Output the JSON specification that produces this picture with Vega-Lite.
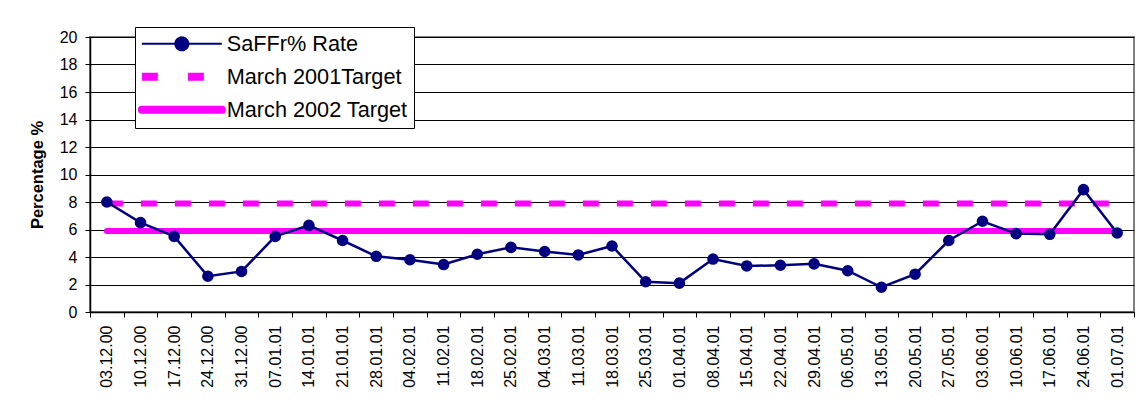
{
  "$schema": "https://vega.github.io/schema/vega-lite/v6.json",
  "width": 1044,
  "height": 275,
  "autosize": {"type": "none"},
  "padding": {"left": 90, "top": 37, "right": 5, "bottom": 104},
  "background": "white",
  "config": {
    "font": "Liberation Sans",
    "view": {"stroke": "#808080", "strokeWidth": 2},
    "axis": {"labelColor": "black", "titleColor": "black", "domainColor": "black", "tickColor": "black", "labelFont": "Liberation Sans", "titleFont": "Liberation Sans"}
  },
  "data": {
    "values": [
      {"date": "03.12.00", "series": "March 2001Target", "value": 7.9},
      {"date": "10.12.00", "series": "March 2001Target", "value": 7.9},
      {"date": "17.12.00", "series": "March 2001Target", "value": 7.9},
      {"date": "24.12.00", "series": "March 2001Target", "value": 7.9},
      {"date": "31.12.00", "series": "March 2001Target", "value": 7.9},
      {"date": "07.01.01", "series": "March 2001Target", "value": 7.9},
      {"date": "14.01.01", "series": "March 2001Target", "value": 7.9},
      {"date": "21.01.01", "series": "March 2001Target", "value": 7.9},
      {"date": "28.01.01", "series": "March 2001Target", "value": 7.9},
      {"date": "04.02.01", "series": "March 2001Target", "value": 7.9},
      {"date": "11.02.01", "series": "March 2001Target", "value": 7.9},
      {"date": "18.02.01", "series": "March 2001Target", "value": 7.9},
      {"date": "25.02.01", "series": "March 2001Target", "value": 7.9},
      {"date": "04.03.01", "series": "March 2001Target", "value": 7.9},
      {"date": "11.03.01", "series": "March 2001Target", "value": 7.9},
      {"date": "18.03.01", "series": "March 2001Target", "value": 7.9},
      {"date": "25.03.01", "series": "March 2001Target", "value": 7.9},
      {"date": "01.04.01", "series": "March 2001Target", "value": 7.9},
      {"date": "08.04.01", "series": "March 2001Target", "value": 7.9},
      {"date": "15.04.01", "series": "March 2001Target", "value": 7.9},
      {"date": "22.04.01", "series": "March 2001Target", "value": 7.9},
      {"date": "29.04.01", "series": "March 2001Target", "value": 7.9},
      {"date": "06.05.01", "series": "March 2001Target", "value": 7.9},
      {"date": "13.05.01", "series": "March 2001Target", "value": 7.9},
      {"date": "20.05.01", "series": "March 2001Target", "value": 7.9},
      {"date": "27.05.01", "series": "March 2001Target", "value": 7.9},
      {"date": "03.06.01", "series": "March 2001Target", "value": 7.9},
      {"date": "10.06.01", "series": "March 2001Target", "value": 7.9},
      {"date": "17.06.01", "series": "March 2001Target", "value": 7.9},
      {"date": "24.06.01", "series": "March 2001Target", "value": 7.9},
      {"date": "01.07.01", "series": "March 2001Target", "value": 7.9},
      {"date": "03.12.00", "series": "March 2002 Target", "value": 5.9},
      {"date": "10.12.00", "series": "March 2002 Target", "value": 5.9},
      {"date": "17.12.00", "series": "March 2002 Target", "value": 5.9},
      {"date": "24.12.00", "series": "March 2002 Target", "value": 5.9},
      {"date": "31.12.00", "series": "March 2002 Target", "value": 5.9},
      {"date": "07.01.01", "series": "March 2002 Target", "value": 5.9},
      {"date": "14.01.01", "series": "March 2002 Target", "value": 5.9},
      {"date": "21.01.01", "series": "March 2002 Target", "value": 5.9},
      {"date": "28.01.01", "series": "March 2002 Target", "value": 5.9},
      {"date": "04.02.01", "series": "March 2002 Target", "value": 5.9},
      {"date": "11.02.01", "series": "March 2002 Target", "value": 5.9},
      {"date": "18.02.01", "series": "March 2002 Target", "value": 5.9},
      {"date": "25.02.01", "series": "March 2002 Target", "value": 5.9},
      {"date": "04.03.01", "series": "March 2002 Target", "value": 5.9},
      {"date": "11.03.01", "series": "March 2002 Target", "value": 5.9},
      {"date": "18.03.01", "series": "March 2002 Target", "value": 5.9},
      {"date": "25.03.01", "series": "March 2002 Target", "value": 5.9},
      {"date": "01.04.01", "series": "March 2002 Target", "value": 5.9},
      {"date": "08.04.01", "series": "March 2002 Target", "value": 5.9},
      {"date": "15.04.01", "series": "March 2002 Target", "value": 5.9},
      {"date": "22.04.01", "series": "March 2002 Target", "value": 5.9},
      {"date": "29.04.01", "series": "March 2002 Target", "value": 5.9},
      {"date": "06.05.01", "series": "March 2002 Target", "value": 5.9},
      {"date": "13.05.01", "series": "March 2002 Target", "value": 5.9},
      {"date": "20.05.01", "series": "March 2002 Target", "value": 5.9},
      {"date": "27.05.01", "series": "March 2002 Target", "value": 5.9},
      {"date": "03.06.01", "series": "March 2002 Target", "value": 5.9},
      {"date": "10.06.01", "series": "March 2002 Target", "value": 5.9},
      {"date": "17.06.01", "series": "March 2002 Target", "value": 5.9},
      {"date": "24.06.01", "series": "March 2002 Target", "value": 5.9},
      {"date": "01.07.01", "series": "March 2002 Target", "value": 5.9},
      {"date": "03.12.00", "series": "SaFFr% Rate", "value": 8.0},
      {"date": "10.12.00", "series": "SaFFr% Rate", "value": 6.5},
      {"date": "17.12.00", "series": "SaFFr% Rate", "value": 5.5},
      {"date": "24.12.00", "series": "SaFFr% Rate", "value": 2.6},
      {"date": "31.12.00", "series": "SaFFr% Rate", "value": 2.95},
      {"date": "07.01.01", "series": "SaFFr% Rate", "value": 5.5},
      {"date": "14.01.01", "series": "SaFFr% Rate", "value": 6.3},
      {"date": "21.01.01", "series": "SaFFr% Rate", "value": 5.2},
      {"date": "28.01.01", "series": "SaFFr% Rate", "value": 4.05},
      {"date": "04.02.01", "series": "SaFFr% Rate", "value": 3.8},
      {"date": "11.02.01", "series": "SaFFr% Rate", "value": 3.45},
      {"date": "18.02.01", "series": "SaFFr% Rate", "value": 4.2},
      {"date": "25.02.01", "series": "SaFFr% Rate", "value": 4.7},
      {"date": "04.03.01", "series": "SaFFr% Rate", "value": 4.4},
      {"date": "11.03.01", "series": "SaFFr% Rate", "value": 4.15},
      {"date": "18.03.01", "series": "SaFFr% Rate", "value": 4.8},
      {"date": "25.03.01", "series": "SaFFr% Rate", "value": 2.2},
      {"date": "01.04.01", "series": "SaFFr% Rate", "value": 2.1},
      {"date": "08.04.01", "series": "SaFFr% Rate", "value": 3.85},
      {"date": "15.04.01", "series": "SaFFr% Rate", "value": 3.35},
      {"date": "22.04.01", "series": "SaFFr% Rate", "value": 3.4},
      {"date": "29.04.01", "series": "SaFFr% Rate", "value": 3.5},
      {"date": "06.05.01", "series": "SaFFr% Rate", "value": 3.0},
      {"date": "13.05.01", "series": "SaFFr% Rate", "value": 1.8},
      {"date": "20.05.01", "series": "SaFFr% Rate", "value": 2.75},
      {"date": "27.05.01", "series": "SaFFr% Rate", "value": 5.2},
      {"date": "03.06.01", "series": "SaFFr% Rate", "value": 6.6},
      {"date": "10.06.01", "series": "SaFFr% Rate", "value": 5.7},
      {"date": "17.06.01", "series": "SaFFr% Rate", "value": 5.65},
      {"date": "24.06.01", "series": "SaFFr% Rate", "value": 8.9},
      {"date": "01.07.01", "series": "SaFFr% Rate", "value": 5.75}
    ]
  },
  "encoding": {
    "x": {
      "field": "date", "type": "ordinal", "title": null,
      "scale": {"type": "band", "paddingInner": 0, "paddingOuter": 0,
        "domain": ["03.12.00","10.12.00","17.12.00","24.12.00","31.12.00","07.01.01","14.01.01","21.01.01","28.01.01","04.02.01","11.02.01","18.02.01","25.02.01","04.03.01","11.03.01","18.03.01","25.03.01","01.04.01","08.04.01","15.04.01","22.04.01","29.04.01","06.05.01","13.05.01","20.05.01","27.05.01","03.06.01","10.06.01","17.06.01","24.06.01","01.07.01"]},
      "axis": {"tickBand": "extent", "tickSize": 5, "labelAngle": -90, "labelFontSize": 16, "labelPadding": 8, "grid": false, "domainWidth": 1.5}
    },
    "y": {
      "field": "value", "type": "quantitative", "title": "Percentage %",
      "scale": {"domain": [0, 20], "nice": false},
      "axis": {"values": [0,2,4,6,8,10,12,14,16,18,20], "tickSize": 5, "labelFontSize": 16, "labelPadding": 8, "grid": true, "gridColor": "black", "gridOpacity": 1, "gridWidth": 1, "titleFontSize": 16.5, "titleFontWeight": "bold", "titlePadding": 14, "domainWidth": 1.5}
    },
    "color": {
      "field": "series", "type": "nominal",
      "scale": {"domain": ["SaFFr% Rate", "March 2001Target", "March 2002 Target"], "range": ["#000080", "#FF00FF", "#FF00FF"]},
      "legend": {
        "orient": "none", "legendX": 45, "legendY": -10, "title": null,
        "strokeColor": "black", "fillColor": "white", "padding": 6,
        "labelFont": "Liberation Sans", "labelFontSize": 21.7, "labelColor": "black", "labelOffset": 64, "labelLimit": 0,
        "symbolSize": 100, "rowPadding": 10, "symbolStrokeWidth": 2,
        "encode": {
          "symbols": {
            "update": {
              "shape": {"signal": "datum.value == 'SaFFr% Rate' ? 'M-2,0L14,0M7.3,0A1.3,1.3,0,1,1,4.7,0A1.3,1.3,0,1,1,7.3,0' : 'M-2,0L14,0'"},
              "fill": {"signal": "datum.value == 'SaFFr% Rate' ? '#000080' : 'transparent'"},
              "stroke": {"signal": "datum.value == 'SaFFr% Rate' ? '#000080' : '#FF00FF'"},
              "strokeWidth": {"signal": "datum.value == 'SaFFr% Rate' ? 2 : 8"},
              "strokeDash": {"signal": "datum.value == 'March 2001Target' ? [16,30] : [1,0]"},
              "strokeCap": {"signal": "datum.value == 'March 2002 Target' ? 'round' : 'butt'"},
              "strokeJoin": {"value": "round"},
              "opacity": {"value": 1}
            }
          }
        }
      }
    }
  },
  "layer": [
    {
      "transform": [{"filter": "datum.series == 'March 2001Target'"}],
      "mark": {"type": "line", "strokeWidth": 6, "strokeDash": [16, 18], "strokeCap": "butt"}
    },
    {
      "transform": [{"filter": "datum.series == 'March 2002 Target'"}],
      "mark": {"type": "line", "strokeWidth": 6, "strokeCap": "round"}
    },
    {
      "transform": [{"filter": "datum.series == 'SaFFr% Rate'"}],
      "mark": {"type": "line", "strokeWidth": 2.5}
    },
    {
      "transform": [{"filter": "datum.series == 'SaFFr% Rate'"}],
      "mark": {"type": "point", "filled": true, "size": 135, "opacity": 1}
    }
  ]
}
